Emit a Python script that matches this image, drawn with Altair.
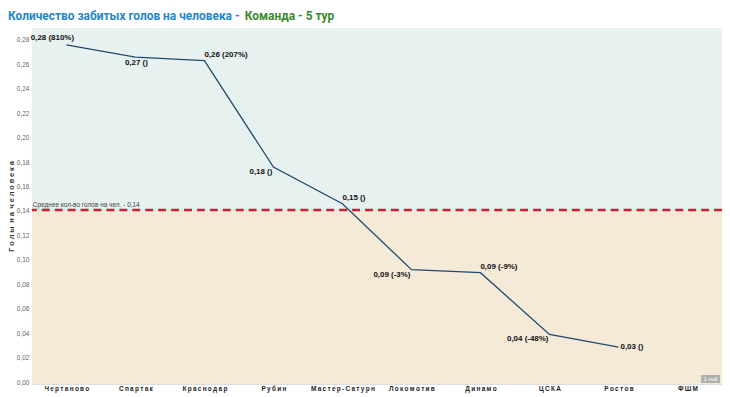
import altair as alt
import pandas as pd

teams = ["Чертаново", "Спартак", "Краснодар", "Рубин", "Мастер-Сатурн",
         "Локомотив", "Динамо", "ЦСКА", "Ростов", "ФШМ"]
goals = [0.276, 0.266, 0.263, 0.176, 0.146, 0.092, 0.0895, 0.039, 0.0285, None]
labels = ["0,28 (810%)", "0,27 ()", "0,26 (207%)", "0,18 ()", "0,15 ()",
          "0,09 (-3%)", "0,09 (-9%)", "0,04 (-48%)", "0,03 ()", ""]
placement = ["topleft", "below", "above", "belowleft", "above",
             "belowleft", "above", "belowleft", "right", "none"]
y_ticks = [0.0, 0.02, 0.04, 0.06, 0.08, 0.10, 0.12, 0.14, 0.16, 0.18,
           0.20, 0.22, 0.24, 0.26, 0.28]
mean_value = 0.1408
mean_label = "Среднее кол-во голов на чел. - 0,14"
y_title = "Голы на человека"
y_min, y_max = -0.0016, 0.2898

df = pd.DataFrame({"team": teams, "goals": goals, "label": labels, "pos": placement})
bands = pd.DataFrame({"y": [mean_value, y_min], "y2": [y_max, mean_value],
                      "zone": ["above", "below"]})
mean_df = pd.DataFrame({"m": [mean_value], "t": [mean_label]})

FONT = "Liberation Sans"
spaced_title = "\u2002".join("\u2005".join(w) for w in y_title.split(" "))

xenc = alt.X("team:N", sort=teams, title=None,
             scale=alt.Scale(paddingInner=0, paddingOuter=0),
             axis=alt.Axis(labelExpr="join(split(datum.label, ''), '\u2009')",
                           labelAngle=0, labelFontSize=6.5, labelFontWeight="bold",
                           labelColor="#222", labelFont=FONT, ticks=False,
                           domain=True, domainColor="#ddd", labelPadding=2,
                           labelOverlap=False))
yscale = alt.Scale(domain=[y_min, y_max], nice=False, zero=False)
yaxis = alt.Axis(values=y_ticks,
                 labelExpr="replace(format(datum.value, '.2f'), '.', ',')",
                 labelFontSize=6.5, labelColor="#666", labelFont=FONT,
                 ticks=False, grid=False, domain=False, labelPadding=3,
                 labelOverlap=False,
                 titleFontSize=7.5, titleFont=FONT, titleColor="#333",
                 titleFontWeight="bold", titleX=-20, titleY=179,
                 titleAngle=-90, titleBaseline="middle", titleAlign="center")
yenc = alt.Y("goals:Q", scale=yscale, title=spaced_title, axis=yaxis)

bg = alt.Chart(bands).mark_rect().encode(
    y=alt.Y("y:Q", scale=yscale, title=spaced_title, axis=yaxis),
    y2="y2:Q",
    x=alt.value(0), x2=alt.value(694),
    color=alt.Color("zone:N", scale=alt.Scale(domain=["above", "below"],
                                              range=["#e7f2f0", "#f5e9d8"]),
                    legend=None),
)

axes_layer = alt.Chart(df).mark_point(opacity=0).encode(x=xenc, y=yenc)

meanline = alt.Chart(mean_df).mark_rule(color="#c42235", strokeWidth=2.5,
                                        strokeDash=[8, 5]).encode(
    y=alt.Y("m:Q", scale=yscale, title=spaced_title, axis=yaxis))
meantext = alt.Chart(mean_df).mark_text(align="left", baseline="bottom", dx=1, dy=-2,
                                        fontSize=6.5, color="#444", font=FONT).encode(
    y=alt.Y("m:Q", scale=yscale, title=spaced_title, axis=yaxis),
    x=alt.value(0), text="t:N")

line = alt.Chart(df).transform_filter("datum.goals != null").mark_line(
    color="#1f4a70", strokeWidth=1.3).encode(x=xenc, y=yenc)

offsets = {
    "topleft": dict(align="center", dx=-14, dy=-7),
    "below": dict(align="center", dx=1, dy=6),
    "above": dict(align="left", dx=0, dy=-6),
    "belowleft": dict(align="right", dx=-1, dy=5),
    "right": dict(align="left", dx=2, dy=0),
}
text_layers = []
for p, o in offsets.items():
    text_layers.append(
        alt.Chart(df).transform_filter(f"datum.pos == '{p}'").mark_text(
            baseline="middle", fontSize=8, fontWeight="bold", color="#111",
            font=FONT, **o).encode(x=xenc, y=yenc, text="label:N"))

title_blue = alt.Chart(mean_df).mark_text(
    align="left", baseline="middle", fontSize=12, fontWeight="bold",
    color="#1e88c8", font="Roboto").encode(
    x=alt.value(-24), y=alt.value(-12), text=alt.value("Количество забитых голов на человека -"))
title_green = alt.Chart(mean_df).mark_text(
    align="left", baseline="middle", fontSize=12, fontWeight="bold",
    color="#3a8a2c", font="Roboto").encode(
    x=alt.value(214), y=alt.value(-12), text=alt.value("Команда - 5 тур"))

badge = alt.Chart(mean_df).mark_rect(color="#b0b0b0").encode(
    x=alt.value(673), x2=alt.value(692), y=alt.value(349), y2=alt.value(357))
badge_text = alt.Chart(mean_df).mark_text(fontSize=6, color="white", font=FONT,
                                          baseline="middle").encode(
    x=alt.value(682.5), y=alt.value(353), text=alt.value("1 null"))

chart = alt.layer(bg, axes_layer, meanline, meantext, line, *text_layers,
                  title_blue, title_green, badge, badge_text).properties(
    width=694, height=358,
    padding={"left": 24, "top": 19, "right": 0, "bottom": 12},
    autosize=alt.AutoSizeParams(type="none"),
    background="white",
).configure_view(stroke=None)

chart.save("out.html", embed_options={"renderer": "svg", "actions": False})
